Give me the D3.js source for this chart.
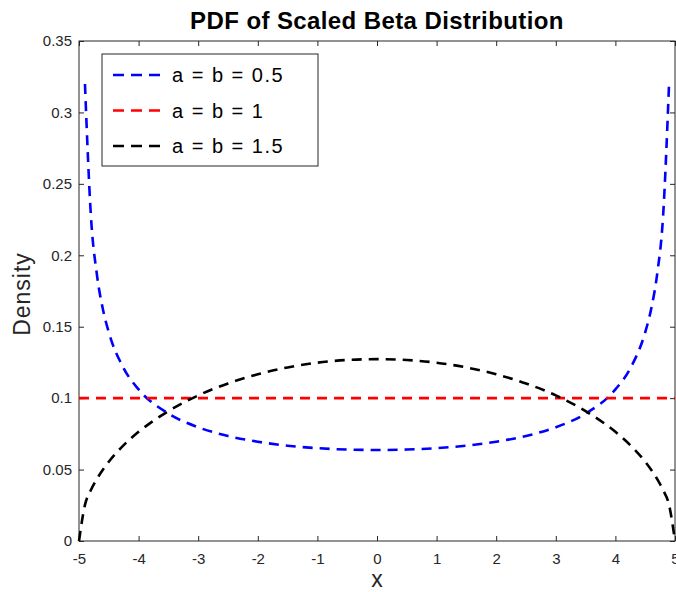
<!DOCTYPE html>
<html lang="en">
<head>
<meta charset="utf-8">
<title>PDF of Scaled Beta Distribution</title>
<script src="https://cdn.jsdelivr.net/npm/d3@7"></script>
<style>
  body { margin: 0; background: #fff; }
  text { font-family: "Liberation Sans", Arial, sans-serif; }
</style>
</head>
<body>
<svg id="chart" width="676" height="592"></svg>
<script>
// values
var xs = [-5, -4.9, -4.8, -4.7, -4.6, -4.5, -4.25, -4, -3.5, -3, -2.5, -2, -1.5, -1, -0.5, 0,
          0.5, 1, 1.5, 2, 2.5, 3, 3.5, 4, 4.25, 4.5, 4.6, 4.7, 4.8, 4.9, 5];
var halfB = [null, 0.3199, 0.2274, 0.1866, 0.1624, 0.1461, 0.1209, 0.1061, 0.0892, 0.0796,
             0.0735, 0.0695, 0.0667, 0.0650, 0.0640, 0.0637];
var halfK = [0, 0.0253, 0.0357, 0.0434, 0.0499, 0.0555, 0.0671, 0.0764, 0.0909, 0.1019,
             0.1103, 0.1167, 0.1215, 0.1248, 0.1267, 0.1273];
var blueY = halfB.concat(halfB.slice(0, 15).reverse());
var blackY = halfK.concat(halfK.slice(0, 15).reverse());
var redY = xs.map(function () { return 0.1; });

var seriesNames = ["a = b = 0.5", "a = b = 1", "a = b = 1.5"];
var seriesColors = ["#0000ff", "#ff0000", "#000000"];
var seriesVals = [blueY, redY, blackY];
var xTicks = [-5, -4, -3, -2, -1, 0, 1, 2, 3, 4, 5];
var yTicks = [0, 0.05, 0.1, 0.15, 0.2, 0.25, 0.3, 0.35];

var svg = d3.select("#chart");
var L = 79, R = 675, T = 41, B = 541;
var axisColor = "#262626";

var x = d3.scaleLinear().domain([-5, 5]).range([L, R]);
var y = d3.scaleLinear().domain([0, 0.35]).range([B, T]);

// box
svg.append("rect")
    .attr("x", L).attr("y", T)
    .attr("width", R - L).attr("height", B - T)
    .attr("fill", "none").attr("stroke", axisColor).attr("stroke-width", 1);

function styleAxis(g) {
    g.select(".domain").remove();
    g.selectAll(".tick line").attr("stroke", axisColor);
    g.selectAll(".tick text").attr("fill", axisColor)
        .style("font-size", "15px")
        .style("font-family", "'Liberation Sans', Arial, sans-serif");
}

svg.append("g").attr("transform", "translate(0," + B + ")")
    .call(d3.axisBottom(x).tickValues(xTicks).tickSizeInner(-5).tickSizeOuter(0).tickPadding(12)
        .tickFormat(function (d) { return String(d); }))
    .call(styleAxis);
svg.append("g").attr("transform", "translate(0," + T + ")")
    .call(d3.axisTop(x).tickValues(xTicks).tickSizeInner(-5).tickSizeOuter(0).tickFormat(""))
    .call(styleAxis);
svg.append("g").attr("transform", "translate(" + L + ",0)")
    .call(d3.axisLeft(y).tickValues(yTicks).tickSizeInner(-5).tickSizeOuter(0).tickPadding(7)
        .tickFormat(function (d) { return d === 0 ? "0" : String(+d.toFixed(2)); }))
    .call(styleAxis);
svg.append("g").attr("transform", "translate(" + R + ",0)")
    .call(d3.axisRight(y).tickValues(yTicks).tickSizeInner(-5).tickSizeOuter(0).tickFormat(""))
    .call(styleAxis);

// curves
var line = d3.line()
    .defined(function (d) { return d[1] !== null; })
    .x(function (d) { return x(d[0]); })
    .y(function (d) { return y(d[1]); })
    .curve(d3.curveMonotoneX);

seriesVals.forEach(function (vals, i) {
    svg.append("path")
        .datum(xs.map(function (v, j) { return [v, vals[j]]; }))
        .attr("d", line)
        .attr("fill", "none")
        .attr("stroke", seriesColors[i])
        .attr("stroke-width", 2.6)
        .attr("stroke-dasharray", "10,7");
});

// legend
var lg = svg.append("g");
lg.append("rect")
    .attr("x", 102).attr("y", 54).attr("width", 216).attr("height", 112)
    .attr("fill", "#fff").attr("stroke", axisColor).attr("stroke-width", 1);
seriesNames.forEach(function (name, i) {
    var yy = 75 + i * 35.5;
    lg.append("line")
        .attr("x1", 113).attr("x2", 163).attr("y1", yy).attr("y2", yy)
        .attr("stroke", seriesColors[i]).attr("stroke-width", 2.6)
        .attr("stroke-dasharray", "11,7");
    lg.append("text")
        .attr("x", 172).attr("y", yy + 7)
        .style("font-size", "20px")
        .style("letter-spacing", "1.5px")
        .attr("fill", "#000")
        .text(name);
});

// titles
svg.append("text")
    .attr("x", (L + R) / 2).attr("y", 29)
    .attr("text-anchor", "middle")
    .style("font-size", "24px").style("font-weight", "bold")
    .style("letter-spacing", "0.4px")
    .attr("fill", "#000")
    .text("PDF of Scaled Beta Distribution");
svg.append("text")
    .attr("x", (L + R) / 2).attr("y", 587)
    .attr("text-anchor", "middle")
    .style("font-size", "23px").attr("fill", axisColor)
    .text("x");
svg.append("text")
    .attr("transform", "translate(30," + 294 + ") rotate(-90)")
    .attr("text-anchor", "middle")
    .style("font-size", "23px")
    .style("letter-spacing", "1px")
    .attr("fill", axisColor)
    .text("Density");
</script>
</body>
</html>
